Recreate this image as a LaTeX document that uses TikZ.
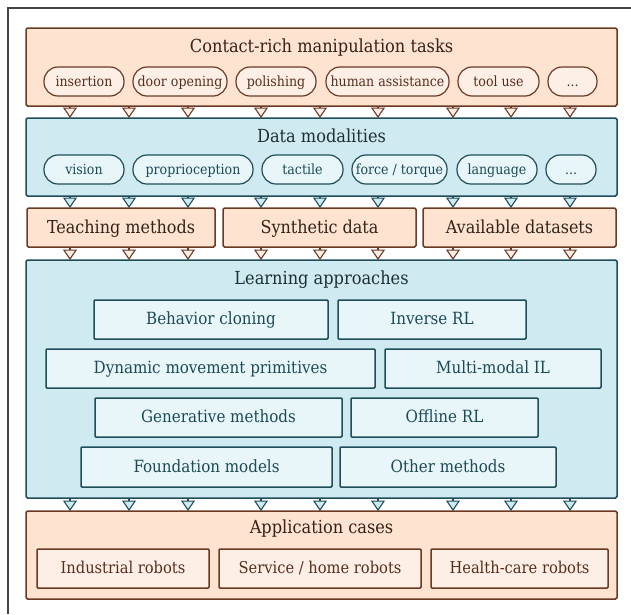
\documentclass[tikz,border=0pt]{standalone}
\usepackage{fontspec}
\setmainfont{DejaVu Serif Condensed}
\usetikzlibrary{arrows.meta}
\definecolor{peach}{HTML}{FDE3D0}
\definecolor{peachlt}{HTML}{FEEFE6}
\definecolor{brownln}{HTML}{6B3A24}
\definecolor{browntx}{HTML}{552F1D}
\definecolor{browntitle}{HTML}{33231A}
\definecolor{bluefill}{HTML}{CFEAF0}
\definecolor{bluelt}{HTML}{E8F6FA}
\definecolor{tealln}{HTML}{1F4E5A}
\definecolor{tealtx}{HTML}{1B4A55}
\definecolor{tealtitle}{HTML}{1E3035}
\definecolor{framec}{HTML}{444444}
\newcommand{\rbox}[7]{\node[#1, anchor=north west, minimum width={(#5-#3)*1pt}, minimum height={(#6-#4)*1pt}] (#2) at (#3,#4) {#7};}
\tikzset{
  base/.style={inner sep=0pt, outer sep=0pt, line width=1.5pt, align=center},
  bigO/.style={base, draw=brownln, fill=peach, rounded corners=1.5pt},
  bigB/.style={base, draw=tealln, fill=bluefill, rounded corners=1.5pt},
  rowO/.style={base, draw=brownln, fill=peach, rounded corners=1.5pt, text=browntitle, font=\fontsize{17.8}{20}\selectfont, text height=14.6pt, text depth=3pt},
  pillO/.style={base, line width=1.2pt, draw=brownln, fill=peachlt, rounded corners=14pt, text=browntx, font=\fontsize{14}{16}\selectfont, text height=12pt, text depth=3pt},
  pillB/.style={base, line width=1.2pt, draw=tealln, fill=bluelt, rounded corners=14pt, text=tealtx, font=\fontsize{14}{16}\selectfont, text height=12pt, text depth=3pt},
  itemB/.style={base, draw=tealln, fill=bluelt, rounded corners=1pt, text=tealtx, font=\fontsize{16.8}{19}\selectfont, text height=13.9pt, text depth=3pt},
  itemO/.style={base, draw=brownln, fill=peachlt, rounded corners=1pt, text=browntx, font=\fontsize{16.3}{19}\selectfont, text height=13.6pt, text depth=3pt},
  titleO/.style={inner sep=0pt, anchor=base, text=browntitle, font=\fontsize{18}{21}\selectfont},
  titleB/.style={inner sep=0pt, anchor=base, text=tealtitle, font=\fontsize{18}{21}\selectfont},
  arrO/.style={draw=brownln, line width=1.1pt, -{Triangle[width=14pt,length=10.5pt,fill=peachlt]}},
  arrB/.style={draw=tealln, line width=1.1pt, -{Triangle[width=14pt,length=10.5pt,fill=bluefill]}}
}
\begin{document}
\begin{tikzpicture}[x=1pt,y=-1pt]
\useasboundingbox (0,0) rectangle (631,614);
\draw[framec, line width=1.5pt] (8,614) -- (8,8) -- (631,8);

% Contact-rich tasks
\rbox{bigO}{tasks}{26}{28}{617}{106}{}
\node[titleO] (tasksT) at (321.5,52) {Contact-rich manipulation tasks};
\rbox{pillO}{p1}{44}{67}{124}{96}{insertion}
\rbox{pillO}{p2}{133}{67}{227}{96}{door opening}
\rbox{pillO}{p3}{236}{67}{316}{96}{polishing}
\rbox{pillO}{p4}{326}{67}{449}{96}{human assistance}
\rbox{pillO}{p5}{458}{67}{539}{96}{tool use}
\rbox{pillO}{p6}{548}{67}{597}{96}{...}

% Data modalities
\rbox{bigB}{data}{26}{118}{617}{196}{}
\node[titleB] (dataT) at (321.5,142.5) {Data modalities};
\rbox{pillB}{d1}{44}{155}{124}{184}{vision}
\rbox{pillB}{d2}{133}{155}{253}{184}{proprioception}
\rbox{pillB}{d3}{262}{155}{343}{184}{tactile}
\rbox{pillB}{d4}{352}{155}{447}{184}{force / torque}
\rbox{pillB}{d5}{457}{155}{537}{184}{language}
\rbox{pillB}{d6}{546}{155}{596}{184}{...}

% Row 3
\rbox{rowO}{teach}{27}{208}{215}{247}{Teaching methods}
\rbox{rowO}{synth}{223}{208}{416}{247}{Synthetic data}
\rbox{rowO}{avail}{423}{208}{616}{247}{Available datasets}

% Learning approaches
\rbox{bigB}{learn}{26}{260}{617}{498}{}
\node[titleB] (learnT) at (321.5,284.5) {Learning approaches};
\rbox{itemB}{l1}{94}{300}{328}{339}{Behavior cloning}
\rbox{itemB}{l2}{338}{300}{526}{339}{Inverse RL}
\rbox{itemB}{l3}{46}{349}{375}{388}{Dynamic movement primitives}
\rbox{itemB}{l4}{385}{349}{601}{388}{Multi-modal IL}
\rbox{itemB}{l5}{95}{398}{342}{437}{Generative methods}
\rbox{itemB}{l6}{351}{398}{538}{437}{Offline RL}
\rbox{itemB}{l7}{81}{447}{332}{487}{Foundation models}
\rbox{itemB}{l8}{340}{447}{556}{487}{Other methods}

% Application cases
\rbox{bigO}{app}{26}{511}{617}{599}{}
\node[titleO] (appT) at (321.5,533.5) {Application cases};
\rbox{itemO}{r1}{37}{549}{209}{588}{Industrial robots}
\rbox{itemO}{r2}{219}{549}{421}{588}{Service / home robots}
\rbox{itemO}{r3}{431}{549}{608}{588}{Health-care robots}

% arrows
\foreach \x [count=\i] in {70,129,188,261,320,378,453,511,570}
  \coordinate (a\i) at (\x,0);
\foreach \i in {1,...,9} {
  \draw[arrO] (tasks.south -| a\i) -- (data.north -| a\i);
  \draw[arrB] (data.south -| a\i) -- (teach.north -| a\i);
  \draw[arrB] (learn.south -| a\i) -- (app.north -| a\i);
}
\foreach \i in {1,2,3} \draw[arrO] (teach.south -| a\i) -- (learn.north -| a\i);
\foreach \i in {4,5,6} \draw[arrO] (synth.south -| a\i) -- (learn.north -| a\i);
\foreach \i in {7,8,9} \draw[arrO] (avail.south -| a\i) -- (learn.north -| a\i);
\end{tikzpicture}
\end{document}
